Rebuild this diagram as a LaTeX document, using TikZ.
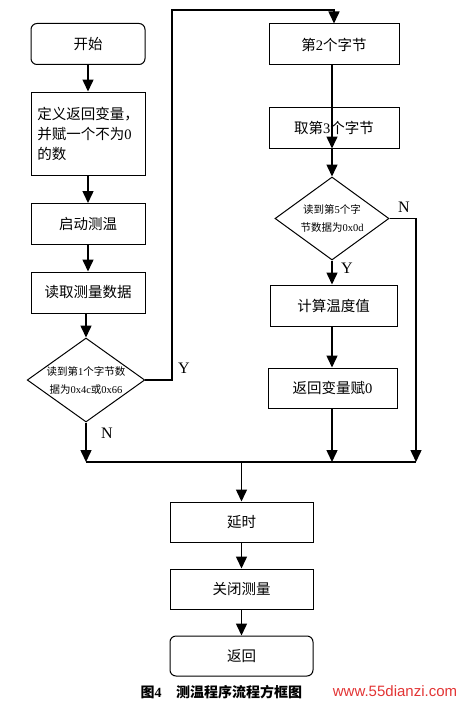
\documentclass[tikz,border=0pt]{standalone}
\usepackage{fontspec}
\setmainfont{Liberation Serif}
\newfontfamily\cjk{Noto Sans CJK SC}
\newfontfamily\wmfont{Liberation Sans}
\usetikzlibrary{shapes.geometric,arrows.meta}
\definecolor{wmred}{RGB}{226,52,52}
\begin{document}
\begin{tikzpicture}[x=1pt,y=-1pt,
  box/.style={draw, line width=1pt, minimum width=#1, minimum height=41pt, inner sep=2pt,
    font=\fontsize{14.5}{20}\selectfont\cjk},
  box/.default=114pt,
  rbox/.style={box=#1, rounded corners=6pt},
  rbox/.default=114pt,
  dia/.style={draw, line width=1pt, diamond, aspect=1.4, minimum width=114pt, minimum height=83pt,
    inner sep=0pt, align=center, font=\fontsize{10.5}{18}\selectfont},
  arr/.style={line width=1.5pt, -{Triangle[length=12pt,width=11pt]}},
  ln/.style={line width=1.5pt},
  lab/.style={font=\fontsize{16}{16}\selectfont, inner sep=0pt}]
\useasboundingbox (0,0) rectangle (464,701);
% left column
\node[rbox] (s) at (88,44) {开始};
\node[box, minimum height=83pt, align=left] (l1) at (88,133.5) {定义返回变量，\\并赋一个不为{\rmfamily 0}\\的数};
\node[box] (l2) at (88,224) {启动测温};
\node[box] (l3) at (88,292.5) {读取测量数据};
\node[dia] (d1) at (86,380) {{\cjk 读到第}1{\cjk 个字节数}\\{\cjk 据为}0x4c{\cjk 或}0x66};
% right column
\node[box=130pt] (r1) at (334,44.5) {第{\rmfamily 2}个字节};
\node[box=130pt] (r2) at (334,127.5) {取第{\rmfamily 3}个字节};
\node[dia] (d2) at (332,218.5) {{\cjk 读到第}5{\cjk 个字}\\{\cjk 节数据为}0x0d};
\node[box=127pt] (r3) at (333.5,305.5) {计算温度值};
\node[box=129pt, minimum height=40pt] (r4) at (332.5,388) {返回变量赋{\rmfamily 0}};
% bottom column
\node[box=143pt, minimum height=40pt] (b1) at (241.5,522) {延时};
\node[box=143pt, minimum height=40pt] (b2) at (241.5,589) {关闭测量};
\node[rbox=143pt, minimum height=40pt] (b3) at (241.5,656) {返回};
% coordinates
\coordinate (mL) at (86,462);
\coordinate (mR) at (416,462);
\coordinate (mC) at (241.5,462);
\coordinate (yt) at (172,10);
% connectors
\draw[arr] (s) -- (l1);
\draw[arr] (l1) -- (l2);
\draw[arr] (l2) -- (l3);
\draw[arr] (l3.south -| d1.north) -- (d1.north);
\draw[arr] (d1.east) -| (yt) -| (r1.north);
\draw[arr] (d1.south) -- (mL);
\draw[arr] (r1.south -| d2.north) -- (r2.south -| d2.north);
\draw[arr] (r2.south -| d2.north) -- (d2.north);
\draw[arr] (d2.south) -- (r3.north -| d2.south);
\draw[arr] (r3.south -| d2.south) -- (r4.north -| d2.south);
\draw[arr] (d2.east) -| (mR);
\draw[arr] (r4.south -| d2.south) -- (mL -| d2.south);
\draw[ln] (mL) -- (mR);
\draw[arr] (mC) -- (b1.north);
\draw[arr] (b1) -- (b2);
\draw[arr] (b2) -- (b3);
% labels
\node[lab] (ly1) at (184,368) {Y};
\node[lab] (ln1) at (107,433) {N};
\node[lab] (ly2) at (347,268) {Y};
\node[lab] (ln2) at (404,207) {N};
% caption
\node[font=\fontsize{14}{14}\selectfont\bfseries, inner sep=0pt] (c1) at (151,692) {{\cjk 图}4};
\node[font=\fontsize{14}{14}\selectfont\cjk\bfseries, inner sep=0pt] (c2) at (239,692) {测温程序流程方框图};
\node[font=\fontsize{15}{15}\selectfont\wmfont, text=wmred, inner sep=0pt] (wm) at (395,691) {www.55dianzi.com};
\end{tikzpicture}
\end{document}
